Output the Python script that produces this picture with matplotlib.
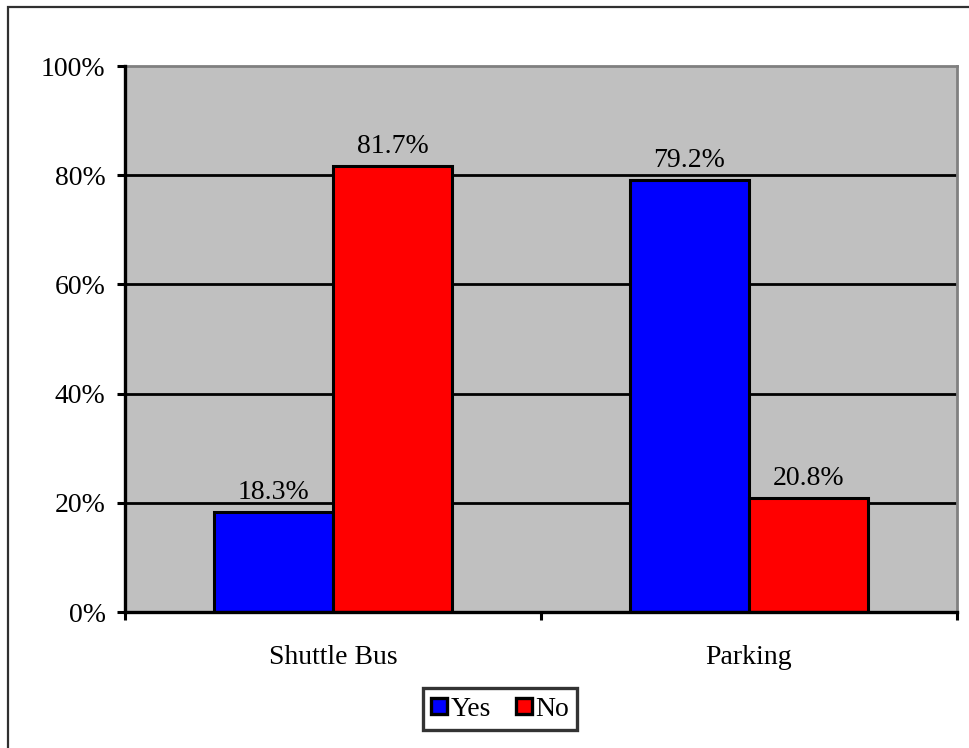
import matplotlib
matplotlib.use("Agg")
from matplotlib import pyplot as plt
from matplotlib.lines import Line2D
from matplotlib.patches import Rectangle

plt.rcParams['font.family'] = ['Liberation Serif', 'DejaVu Serif']

categories = ["Shuttle Bus", "Parking"]
series_names = ["Yes", "No"]
yes_vals = [18.3, 79.2]
no_vals = [81.7, 20.8]
y_ticks = [0, 20, 40, 60, 80, 100]
y_tick_labels = ["0%", "20%", "40%", "60%", "80%", "100%"]

colors = ["#0000FF", "#FF0000"]
fs = 20

fig = plt.figure(figsize=(9.69, 7.48), dpi=100)
ax = fig.add_axes([125 / 969, 1 - 612 / 748, (957 - 125) / 969, (612 - 66) / 748])
ax.set_facecolor("#C0C0C0")

# outer chart frame (only left / top visible in the picture)
fig.patches.append(Rectangle((8 / 969, -0.1), 1.2, 1.1 - 7 / 748,
                             transform=fig.transFigure, fill=False,
                             edgecolor="#303030", linewidth=1.6, zorder=0))

w = 0.286
x = list(range(len(categories)))
for i, (vals, c) in enumerate(zip([yes_vals, no_vals], colors)):
    off = (i - 0.5) * w
    xs = [k + off for k in x]
    bars = ax.bar(xs, vals, width=w, color=c, edgecolor="black",
                  linewidth=2.2, zorder=3)
    for b, v in zip(bars, vals):
        ax.annotate(f"{v:.1f}%", (b.get_x() + b.get_width() / 2, v),
                    xytext=(0, 5), textcoords="offset points",
                    ha="center", va="bottom", fontsize=fs, zorder=4)

# gridlines
for t in y_ticks[1:-1]:
    ax.axhline(t, color="black", linewidth=2.0, zorder=1)

ax.set_xlim(-0.5, 1.5)
ax.set_ylim(0, 100)

ax.set_yticks(y_ticks)
ax.set_yticklabels(y_tick_labels, fontsize=fs)
ax.tick_params(axis="y", direction="out", length=6, width=2.2, pad=8)

ax.set_xticks(x)
ax.set_xticklabels(categories, fontsize=fs)
ax.set_xticks([-0.5, 0.5, 1.5], minor=True)
ax.tick_params(axis="x", which="major", length=0, pad=24)
ax.tick_params(axis="x", which="minor", direction="out", length=6, width=2.2)

for s in ["left", "bottom"]:
    ax.spines[s].set_color("black")
    ax.spines[s].set_linewidth(2.4)
    ax.spines[s].set_zorder(5)
for s in ["top", "right"]:
    ax.spines[s].set_color("#808080")
    ax.spines[s].set_linewidth(2.0)

handles = [Line2D([], [], linestyle="none", marker="s", markersize=11,
                  markerfacecolor=c, markeredgecolor="black",
                  markeredgewidth=2.4) for c in colors]
leg = fig.legend(handles, series_names, loc="center",
                 bbox_to_anchor=(500 / 969, 1 - 709 / 748),
                 bbox_transform=fig.transFigure, ncol=2, fontsize=fs,
                 frameon=True, fancybox=False, handlelength=0.6,
                 handletextpad=0.1, columnspacing=0.9, borderpad=0.3,
                 borderaxespad=0)
leg.get_frame().set_edgecolor("black")
leg.get_frame().set_linewidth(2.4)

fig.savefig("out.png", dpi=100)
